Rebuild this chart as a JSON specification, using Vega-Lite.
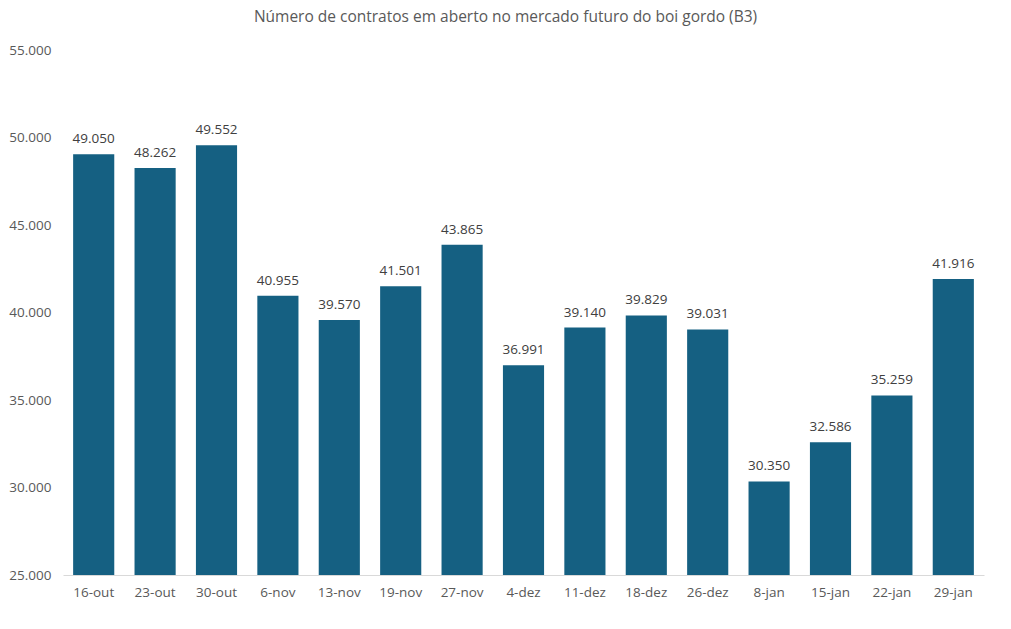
{
  "$schema": "https://vega.github.io/schema/vega-lite/v6.json",
  "autosize": {"type": "none"},
  "width": 921,
  "height": 525,
  "padding": {"left": 63, "top": 50, "right": 27, "bottom": 54},
  "background": "white",
  "config": {
    "locale": {"number": {"decimal": ",", "thousands": ".", "grouping": [3], "currency": ["R$", ""]}},
    "font": "Open Sans",
    "view": {"stroke": null}
  },
  "title": {
    "text": "Número de contratos em aberto no mercado futuro do boi gordo (B3)",
    "fontSize": 15.5,
    "fontWeight": "normal",
    "color": "#595959",
    "font": "Open Sans",
    "anchor": "middle",
    "dx": -18,
    "offset": 18
  },
  "data": {
    "values": [
      {"data": "16-out", "contratos": 49050},
      {"data": "23-out", "contratos": 48262},
      {"data": "30-out", "contratos": 49552},
      {"data": "6-nov", "contratos": 40955},
      {"data": "13-nov", "contratos": 39570},
      {"data": "19-nov", "contratos": 41501},
      {"data": "27-nov", "contratos": 43865},
      {"data": "4-dez", "contratos": 36991},
      {"data": "11-dez", "contratos": 39140},
      {"data": "18-dez", "contratos": 39829},
      {"data": "26-dez", "contratos": 39031},
      {"data": "8-jan", "contratos": 30350},
      {"data": "15-jan", "contratos": 32586},
      {"data": "22-jan", "contratos": 35259},
      {"data": "29-jan", "contratos": 41916}
    ]
  },
  "encoding": {
    "x": {
      "field": "data",
      "type": "nominal",
      "sort": null,
      "scale": {"paddingInner": 0.33, "paddingOuter": 0.165},
      "axis": {
        "title": null,
        "labelAngle": 0,
        "labelFontSize": 13.5,
        "labelColor": "#595959",
        "labelPadding": 10,
        "ticks": false,
        "domainColor": "#d9d9d9",
        "domainWidth": 1
      }
    },
    "y": {
      "field": "contratos",
      "type": "quantitative",
      "scale": {"domain": [25000, 55000], "nice": false, "zero": false},
      "axis": {
        "title": null,
        "values": [25000, 30000, 35000, 40000, 45000, 50000, 55000],
        "format": ",.0f",
        "labelFontSize": 13.5,
        "labelColor": "#595959",
        "labelPadding": 12,
        "ticks": false,
        "domain": false,
        "grid": false
      }
    }
  },
  "layer": [
    {"mark": {"type": "bar", "color": "#156082", "clip": true}},
    {
      "mark": {"type": "text", "baseline": "bottom", "dy": -8, "fontSize": 13.5, "color": "#404040"},
      "encoding": {"text": {"field": "contratos", "type": "quantitative", "format": ",.0f"}}
    }
  ]
}
